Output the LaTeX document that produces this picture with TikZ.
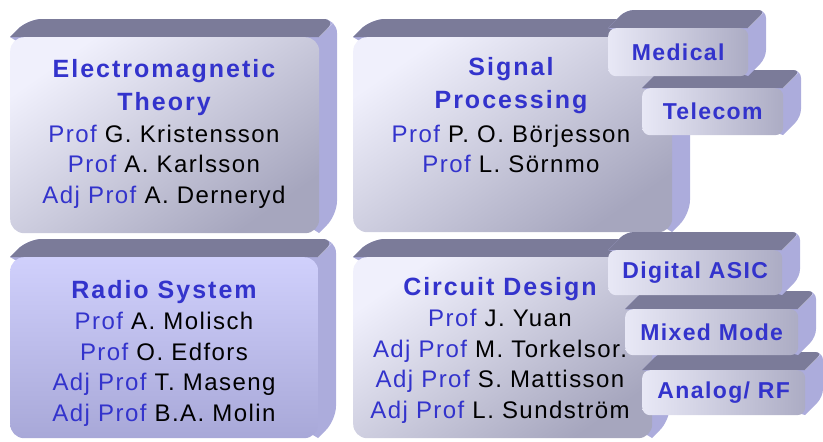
\documentclass[tikz,border=0pt]{standalone}
\usepackage{fontspec}
\setmainfont{Liberation Sans}
\newfontfamily\headfont[LetterSpace=8]{Liberation Sans}
\newfontfamily\tabfont[LetterSpace=6]{Liberation Sans}
\newfontfamily\namefont[LetterSpace=6]{Liberation Sans}
\definecolor{headblue}{RGB}{51,51,204}
\definecolor{topgrey}{RGB}{123,123,153}
\definecolor{sidelilac}{RGB}{172,172,220}
\definecolor{facelight}{RGB}{240,240,252}
\definecolor{facedark}{RGB}{166,166,190}
\definecolor{radiolight}{RGB}{208,208,252}
\definecolor{radiodark}{RGB}{168,168,216}
\definecolor{tablight}{RGB}{232,232,246}
\definecolor{tabdark}{RGB}{172,172,196}
\tikzset{
    bigface/.style={rounded corners=14pt, inner sep=0pt, anchor=north west,
        top color=facelight, bottom color=facedark, shading angle=35},
    radioface/.style={bigface, top color=radiolight, bottom color=radiodark},
    tabface/.style={rounded corners=8pt, inner sep=0pt, anchor=north west,
        left color=tablight, right color=tabdark, text=headblue,
        font=\tabfont\bfseries\fontsize{23}{28}\selectfont},
    txt/.style={align=center, inner sep=0pt, anchor=north,
        font=\namefont\fontsize{24}{30.5}\selectfont}
}
% top and right faces of a slab: x1, y1, x2, y2 of the front, corner radius
\newcommand\backfaces[5]{%
    \fill[sidelilac] (#1,#2) [rounded corners=#5] -- (#1+18,#2-18) -- (#3+18,#2-18)
        -- (#3+18,#4-18) [sharp corners] -- (#3,#4) -- cycle;
    \fill[topgrey] (#1,#2) [rounded corners=#5] -- (#1+18,#2-18) -- (#3+18,#2-18)
        [sharp corners] -- (#3,#2) -- cycle;
    \draw[white, opacity=.35, line width=.6pt] (#3,#2) -- (#3+18,#2-18);
}
\newcommand\head[1]{{\headfont\bfseries\fontsize{25}{30}\selectfont\color{headblue}#1}}
\newcommand\role[1]{\textcolor{headblue}{#1}}

\begin{document}
\begin{tikzpicture}[x=1pt, y=-1pt]
    \useasboundingbox (0,0) rectangle (823,442);

    % Electromagnetic Theory
    \backfaces{10}{37}{319}{233}{14pt}
    \node[bigface, minimum width=309pt, minimum height=196pt] (emface) at (10,37) {};
    \node[txt] (emtext) at (164,59) {\head{Electromagnetic}\\[3pt]\head{Theory}\\[1pt]
        \role{Prof} G. Kristensson\\ \role{Prof} A. Karlsson\\ \role{Adj Prof} A. Derneryd};

    % Signal Processing
    \backfaces{353}{37}{672}{232}{14pt}
    \node[bigface, minimum width=319pt, minimum height=195pt] (spface) at (353,37) {};
    \node[txt] (sptext) at (511,57) {\head{Signal}\\[3pt]\head{Processing}\\[3pt]
        \role{Prof} P. O. Börjesson\\ \role{Prof} L. Sörnmo};
    \backfaces{642}{88}{783}{135}{8pt}
    \node[tabface, minimum width=141pt, minimum height=47pt] (telecom) at (642,88) {Telecom};
    \backfaces{608}{28}{748}{76}{8pt}
    \node[tabface, minimum width=140pt, minimum height=48pt] (medical) at (608,28) {Medical};

    % Radio System
    \backfaces{10}{257}{318}{438}{14pt}
    \node[radioface, minimum width=308pt, minimum height=181pt] (rsface) at (10,257) {};
    \node[txt] (rstext) at (164,280) {\head{Radio System}\\[1pt]
        \role{Prof} A. Molisch\\ \role{Prof} O. Edfors\\ \role{Adj Prof} T. Maseng\\
        \role{Adj Prof} B.A. Molin};

    % Circuit Design
    \backfaces{353}{257}{652}{438}{14pt}
    \node[bigface, minimum width=299pt, minimum height=181pt] (cdface) at (353,257) {};
    \node[txt] (cdtext) at (500,277) {\head{Circuit Design}\\[1pt]
        \role{Prof} J. Yuan\\ \role{Adj Prof} M. Torkelsor.\\ \role{Adj Prof} S. Mattisson\\
        \role{Adj Prof} L. Sundström};
    \backfaces{642}{370}{805}{415}{8pt}
    \node[tabface, minimum width=163pt, minimum height=45pt] (analog) at (642,370) {Analog/ RF};
    \backfaces{625}{309}{798}{355}{8pt}
    \node[tabface, minimum width=173pt, minimum height=46pt] (mixed) at (625,309) {Mixed Mode};
    \backfaces{608}{250}{782}{295}{8pt}
    \node[tabface, minimum width=174pt, minimum height=45pt] (digital) at (608,250) {Digital ASIC};
\end{tikzpicture}
\end{document}
